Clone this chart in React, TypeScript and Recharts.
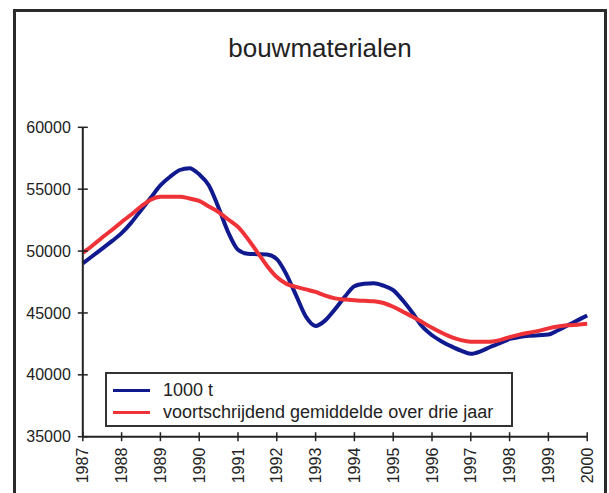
import React from 'react';
import { LineChart, Line, XAxis, YAxis, Legend } from 'recharts';

// quarterly positions on the time axis
const periods = [
  1987, 1987.25, 1987.5, 1987.75, 1988, 1988.25, 1988.5, 1988.75,
  1989, 1989.25, 1989.5, 1989.75, 1990, 1990.25, 1990.5, 1990.75,
  1991, 1991.25, 1991.5, 1991.75, 1992, 1992.25, 1992.5, 1992.75,
  1993, 1993.25, 1993.5, 1993.75, 1994, 1994.25, 1994.5, 1994.75,
  1995, 1995.25, 1995.5, 1995.75, 1996, 1996.25, 1996.5, 1996.75,
  1997, 1997.25, 1997.5, 1997.75, 1998, 1998.25, 1998.5, 1998.75,
  1999, 1999.25, 1999.5, 1999.75, 2000,
];

// 1000 t
const tonnes = [
  49000, 49600, 50200, 50800, 51450, 52300, 53300, 54300,
  55300, 56000, 56550, 56700, 56200, 55300, 53500, 51500,
  50100, 49780, 49750, 49720, 49350, 48100, 46400, 44700,
  43950, 44400, 45300, 46300, 47150, 47350, 47400, 47200,
  46850, 46000, 45000, 43900, 43200, 42700, 42300, 41950,
  41700, 41900, 42250, 42550, 42900, 43050, 43150, 43200,
  43250, 43600, 44000, 44400, 44800,
];

// voortschrijdend gemiddelde over drie jaar
const movingAvg = [
  49850, 50450, 51100, 51700, 52350, 52950, 53600, 54150,
  54380, 54390, 54390, 54250, 54050, 53600, 53150, 52550,
  51950, 51000, 49900, 48800, 47900, 47350, 47100, 46900,
  46700, 46400, 46180, 46080, 46020, 45980, 45940, 45800,
  45500, 45100, 44700, 44250, 43800, 43400, 43050, 42800,
  42680, 42680, 42680, 42800, 43050, 43250, 43400, 43550,
  43750, 43900, 44000, 44050, 44120,
];

const yearTicks = [1987, 1988, 1989, 1990, 1991, 1992, 1993, 1994, 1995, 1996, 1997, 1998, 1999, 2000];
const valueTicks = [35000, 40000, 45000, 50000, 55000, 60000];

const data = periods.map((p, i) => ({ p, tonnes: tonnes[i], avg: movingAvg[i] }));

const FONT = '"Liberation Sans", Arial, sans-serif';
const INK = '#222';

const YTick = (props: any) => {
  const { x, y, payload } = props;
  return (
    <g>
      <line x1={x - 5} x2={x + 5} y1={y} y2={y} stroke={INK} strokeWidth={1.5} />
      <text x={x - 12} y={y} dy="0.35em" textAnchor="end" fontSize={16} fontFamily={FONT} fill={INK}>
        {payload.value}
      </text>
    </g>
  );
};

const XTick = (props: any) => {
  const { x, y, payload } = props;
  return (
    <g>
      <line x1={x} x2={x} y1={y - 4.5} y2={y + 4.5} stroke={INK} strokeWidth={1.5} />
      <text
        x={x}
        y={y + 11}
        dy="0.35em"
        textAnchor="end"
        transform={`rotate(-90, ${x}, ${y + 11})`}
        fontSize={16}
        fontFamily={FONT}
        fill={INK}
      >
        {payload.value}
      </text>
    </g>
  );
};

const LegendBox = (props: any) => {
  const items = props.payload || [];
  return (
    <div
      style={{
        boxSizing: 'border-box',
        width: 408,
        height: 55,
        border: '2px solid #333',
        background: '#fff',
        padding: '6px 0 0 6px',
        fontFamily: FONT,
        fontSize: 18,
        color: INK,
      }}
    >
      {items.map((it: any) => (
        <div key={it.value} style={{ display: 'flex', alignItems: 'center', height: 21.5 }}>
          <span style={{ display: 'inline-block', width: 37, height: 3, background: it.color, marginRight: 13 }} />
          <span style={{ lineHeight: '21px' }}>{it.value}</span>
        </div>
      ))}
    </div>
  );
};

export default function App() {
  return (
    <div style={{ position: 'absolute', left: 0, top: 0, width: 609, height: 493, overflow: 'hidden', background: '#fff' }}>
      <div
        style={{
          position: 'absolute',
          left: 12.5,
          top: 8.5,
          width: 594,
          height: 600,
          boxSizing: 'border-box',
          border: '3px solid #2b2b2b',
        }}
      />
      <div
        style={{
          position: 'absolute',
          left: 170,
          top: 35,
          width: 300,
          textAlign: 'center',
          fontFamily: FONT,
          fontSize: 26,
          lineHeight: '26px',
          color: INK,
        }}
      >
        bouwmaterialen
      </div>
      <div style={{ position: 'absolute', left: 0, top: 0 }}>
        <LineChart width={609} height={493} data={data} margin={{ top: 127.3, right: 21.8, bottom: 6.3, left: 22.8 }}>
          <XAxis
            dataKey="p"
            type="number"
            domain={[1987, 2000]}
            ticks={yearTicks}
            interval={0}
            height={50}
            tickSize={0}
            tickMargin={0}
            tickLine={false}
            axisLine={{ stroke: INK, strokeWidth: 2 }}
            tick={<XTick />}
          />
          <YAxis
            type="number"
            domain={[35000, 60000]}
            ticks={valueTicks}
            interval={0}
            width={60}
            tickSize={0}
            tickMargin={0}
            tickLine={false}
            axisLine={{ stroke: INK, strokeWidth: 2 }}
            tick={<YTick />}
          />
          <Line
            type="monotone"
            dataKey="tonnes"
            name="1000 t"
            stroke="#101a8e"
            strokeWidth={4}
            dot={false}
            isAnimationActive={false}
          />
          <Line
            type="monotone"
            dataKey="avg"
            name="voortschrijdend gemiddelde over drie jaar"
            stroke="#ef3237"
            strokeWidth={4}
            dot={false}
            isAnimationActive={false}
          />
          <Legend
            layout="horizontal"
            verticalAlign="middle"
            align="center"
            content={<LegendBox />}
            wrapperStyle={{ left: 105, top: 372, width: 408, height: 55 }}
          />
        </LineChart>
      </div>
    </div>
  );
}
